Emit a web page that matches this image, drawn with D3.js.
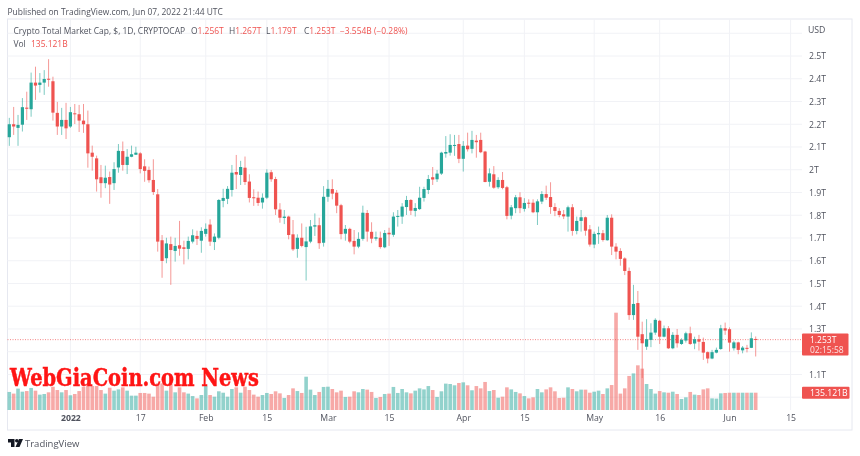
<!DOCTYPE html>
<html>
<head>
<meta charset="utf-8">
<title>Crypto Total Market Cap</title>
<script src="https://cdn.jsdelivr.net/npm/d3@7"></script>
<style>
  html, body { margin: 0; padding: 0; background: #fff; }
  svg { display: block; font-family: "Open Sans", sans-serif; filter: blur(0.35px); }
</style>
</head>
<body>
<div id="chart"></div>
<script>
// Daily candles, Dec 18 2021 to Jun 7 2022, prices in trillions of USD
const opens = [
  2.143,2.200,2.184,2.198,2.273,2.266,2.383,2.373,2.383,2.400,
  2.389,2.250,2.190,2.219,2.190,2.248,2.244,2.216,2.200,2.075,
  2.050,1.967,1.941,1.968,1.941,2.010,2.082,2.021,2.057,2.066,
  2.072,2.015,1.999,1.955,1.892,1.690,1.611,1.673,1.643,1.668,
  1.659,1.652,1.684,1.709,1.688,1.718,1.759,1.682,1.701,1.863,
  1.872,1.911,1.990,1.977,2.009,1.948,1.879,1.877,1.856,1.877,
  1.989,1.959,1.825,1.788,1.794,1.716,1.652,1.701,1.660,1.684,
  1.750,1.756,1.679,1.881,1.915,1.899,1.844,1.719,1.740,1.687,
  1.662,1.696,1.810,1.727,1.697,1.701,1.659,1.723,1.714,1.794,
  1.794,1.836,1.867,1.819,1.827,1.876,1.911,1.967,1.958,1.983,
  2.071,2.075,2.106,2.113,2.048,2.106,2.092,2.128,2.131,2.080,
  1.947,1.980,1.923,1.955,1.923,1.798,1.831,1.879,1.828,1.855,
  1.855,1.813,1.860,1.893,1.880,1.836,1.819,1.804,1.794,1.835,
  1.731,1.775,1.791,1.738,1.671,1.716,1.721,1.690,1.789,1.662,
  1.643,1.610,1.555,1.361,1.414,1.277,1.222,1.252,1.284,1.336,
  1.266,1.303,1.215,1.274,1.234,1.249,1.281,1.236,1.255,1.243,
  1.198,1.170,1.196,1.212,1.303,1.299,1.215,1.241,1.206,1.217,
  1.217,1.256
];
const highs = [
  2.228,2.276,2.241,2.315,2.343,2.427,2.453,2.425,2.438,2.486,
  2.409,2.298,2.272,2.294,2.276,2.289,2.285,2.289,2.260,2.106,
  2.062,2.021,2.018,1.992,2.033,2.113,2.124,2.091,2.106,2.101,
  2.077,2.046,2.014,2.046,1.915,1.713,1.701,1.706,1.701,1.775,
  1.688,1.706,1.738,1.732,1.747,1.764,1.782,1.720,1.871,1.916,
  1.928,2.021,2.065,2.039,2.058,1.980,1.914,1.904,1.896,2.002,
  1.999,1.969,1.853,1.823,1.798,1.779,1.716,1.764,1.749,1.779,
  1.808,1.789,1.928,1.955,1.958,1.911,1.850,1.757,1.745,1.735,
  1.725,1.842,1.823,1.769,1.728,1.728,1.735,1.745,1.813,1.823,
  1.853,1.885,1.871,1.853,1.925,1.925,1.977,2.012,1.999,2.079,
  2.148,2.156,2.153,2.153,2.126,2.163,2.171,2.153,2.163,2.083,
  2.006,2.016,1.967,1.990,1.929,1.845,1.889,1.901,1.875,1.870,
  1.870,1.870,1.906,1.930,1.945,1.853,1.831,1.823,1.842,1.849,
  1.794,1.823,1.794,1.757,1.728,1.750,1.735,1.801,1.804,1.677,
  1.655,1.615,1.570,1.494,1.467,1.332,1.343,1.325,1.347,1.340,
  1.315,1.313,1.286,1.300,1.259,1.288,1.310,1.266,1.274,1.262,
  1.201,1.208,1.218,1.318,1.328,1.307,1.248,1.244,1.225,1.230,
  1.285,1.267
];
const lows = [
  2.105,2.153,2.105,2.168,2.219,2.233,2.307,2.339,2.329,2.365,
  2.216,2.153,2.153,2.135,2.184,2.201,2.166,2.162,2.009,1.996,
  1.904,1.877,1.919,1.850,1.911,1.987,1.996,1.981,2.055,2.065,
  1.984,1.947,1.943,1.889,1.640,1.525,1.589,1.494,1.596,1.622,
  1.584,1.606,1.676,1.669,1.635,1.706,1.665,1.647,1.694,1.835,
  1.849,1.882,1.915,1.933,1.933,1.856,1.841,1.841,1.829,1.871,
  1.947,1.801,1.767,1.761,1.694,1.643,1.613,1.659,1.513,1.677,
  1.709,1.652,1.662,1.859,1.870,1.809,1.694,1.688,1.677,1.628,
  1.655,1.688,1.684,1.677,1.688,1.653,1.655,1.665,1.705,1.750,
  1.762,1.801,1.801,1.794,1.823,1.860,1.893,1.933,1.946,1.977,
  2.053,2.062,2.061,2.029,1.992,2.080,2.072,2.053,2.073,1.945,
  1.926,1.916,1.916,1.914,1.782,1.782,1.809,1.809,1.816,1.831,
  1.809,1.757,1.849,1.867,1.806,1.796,1.791,1.783,1.728,1.710,
  1.716,1.728,1.710,1.662,1.655,1.674,1.684,1.688,1.625,1.606,
  1.578,1.537,1.340,1.340,1.208,1.084,1.208,1.220,1.274,1.234,
  1.263,1.212,1.211,1.218,1.230,1.240,1.230,1.211,1.205,1.164,
  1.149,1.167,1.193,1.208,1.274,1.200,1.205,1.189,1.193,1.197,
  1.216,1.179
];
const closes = [
  2.200,2.190,2.197,2.275,2.268,2.383,2.370,2.383,2.399,2.396,
  2.251,2.190,2.219,2.182,2.253,2.245,2.216,2.200,2.072,2.057,
  1.958,1.941,1.965,1.935,2.003,2.083,2.021,2.057,2.068,2.075,
  2.003,1.995,1.954,1.902,1.684,1.599,1.676,1.647,1.665,1.653,
  1.652,1.687,1.712,1.696,1.731,1.740,1.684,1.706,1.867,1.876,
  1.916,1.987,1.979,2.012,1.946,1.876,1.876,1.854,1.877,1.987,
  1.958,1.826,1.789,1.794,1.713,1.650,1.701,1.665,1.685,1.751,
  1.756,1.677,1.881,1.916,1.895,1.842,1.717,1.740,1.684,1.662,
  1.696,1.811,1.728,1.697,1.703,1.660,1.722,1.716,1.794,1.797,
  1.838,1.867,1.820,1.832,1.877,1.915,1.959,1.957,1.983,2.075,
  2.078,2.109,2.109,2.048,2.105,2.090,2.131,2.121,2.077,1.946,
  1.984,1.921,1.955,1.920,1.797,1.835,1.879,1.831,1.854,1.853,
  1.813,1.861,1.893,1.877,1.836,1.819,1.801,1.795,1.835,1.731,
  1.775,1.791,1.732,1.671,1.718,1.722,1.691,1.789,1.662,1.640,
  1.608,1.555,1.361,1.410,1.266,1.237,1.255,1.284,1.340,1.266,
  1.303,1.215,1.274,1.237,1.252,1.281,1.234,1.255,1.244,1.196,
  1.170,1.198,1.208,1.303,1.293,1.240,1.241,1.208,1.218,1.214,
  1.259,1.253
];
// Volume in billions of USD
const volumes = [
  141,128,167,143,148,172,151,120,125,138,
  182,156,138,156,115,125,148,182,187,187,
  187,156,128,174,151,161,177,151,112,112,
  133,133,128,104,208,208,151,203,138,177,
  138,128,109,91,117,187,117,104,146,135,
  104,164,177,135,182,156,120,104,117,133,
  125,146,130,94,117,169,148,133,260,159,
  117,141,180,182,164,138,151,102,104,146,
  138,164,159,141,94,102,125,128,180,133,
  164,138,130,151,169,161,187,156,102,146,
  206,203,193,211,216,193,154,187,169,219,
  148,156,96,104,177,161,141,130,109,91,
  99,164,138,161,177,146,94,96,177,164,
  146,159,159,135,143,151,125,169,195,760,
  128,169,266,286,349,323,203,164,128,148,
  138,135,143,125,86,99,141,120,117,161,
  169,91,89,130,133,135,135,135,135,135,
  135,135.121
];

const timeTicks = [
  new Date(2022, 0, 1), new Date(2022, 0, 17), new Date(2022, 1, 1), new Date(2022, 1, 15),
  new Date(2022, 2, 1), new Date(2022, 2, 15), new Date(2022, 3, 1), new Date(2022, 3, 15),
  new Date(2022, 4, 1), new Date(2022, 4, 16), new Date(2022, 5, 1), new Date(2022, 5, 15)
];
const timeLabels = ["2022", "17", "Feb", "15", "Mar", "15", "Apr", "15", "May", "16", "Jun", "15"];

const gridPrices = [2.6, 2.5, 2.4, 2.3, 2.2, 2.1, 2, 1.9, 1.8, 1.7, 1.6, 1.5, 1.4, 1.3, 1.2, 1.1, 1];
const priceLabels = [2.5, 2.4, 2.3, 2.2, 2.1, 2, 1.9, 1.8, 1.7, 1.6, 1.5, 1.4, 1.3, 1.1];

const upColor = "#26a69a";
const downColor = "#ef5350";
const axisColor = "#50535e";

const width = 860, height = 456;
const plotRight = 802, frameLeft = 7.5, frameRight = 852, frameTop = 19, frameBottom = 430, paneBottom = 410;

const days = d3.timeDay.range(new Date(2021, 11, 18), new Date(2022, 5, 8));
const x = d3.scaleTime().domain([days[0], days[days.length - 1]]).range([9.3, 755.7]);
const y = d3.scaleLinear().domain([1, 2.5]).range([397.2, 56]);
const yVol = d3.scaleLinear().domain([0, 760]).range([paneBottom, 312.7]);

const candles = days.map((d, i) => ({
  date: d, open: opens[i], high: highs[i], low: lows[i], close: closes[i], volume: volumes[i]
}));
const colorOf = d => d.close >= d.open ? upColor : downColor;

const svg = d3.select("#chart").append("svg").attr("width", width).attr("height", height);

// Frame and grid
svg.append("rect")
  .attr("x", frameLeft).attr("y", frameTop)
  .attr("width", frameRight - frameLeft).attr("height", frameBottom - frameTop)
  .attr("fill", "#fff").attr("stroke", "#e6e8f0");

svg.append("g").selectAll("line").data(gridPrices).join("line")
  .attr("x1", frameLeft).attr("x2", plotRight)
  .attr("y1", d => y(d)).attr("y2", d => y(d))
  .attr("stroke", "#f1f2f6");

svg.append("g").selectAll("line").data(timeTicks).join("line")
  .attr("x1", d => x(d)).attr("x2", d => x(d))
  .attr("y1", frameTop).attr("y2", paneBottom)
  .attr("stroke", "#f1f2f6");

// Volume bars
svg.append("g").selectAll("rect").data(candles).join("rect")
  .attr("x", d => x(d.date) - 1.8)
  .attr("width", 3.6)
  .attr("y", d => yVol(d.volume))
  .attr("height", d => paneBottom - yVol(d.volume))
  .attr("fill", colorOf)
  .attr("opacity", 0.5);

// Last price line
svg.append("line")
  .attr("x1", frameLeft).attr("x2", plotRight)
  .attr("y1", y(1.253)).attr("y2", y(1.253))
  .attr("stroke", downColor).attr("stroke-opacity", 0.7)
  .attr("stroke-dasharray", "1 1.5");

// Candles
const candle = svg.append("g").selectAll("g").data(candles).join("g");
candle.append("line")
  .attr("x1", d => x(d.date)).attr("x2", d => x(d.date))
  .attr("y1", d => y(d.high)).attr("y2", d => y(d.low))
  .attr("stroke", colorOf)
  .attr("stroke-opacity", 0.6);
candle.append("rect")
  .attr("x", d => x(d.date) - 1.6)
  .attr("width", 3.2)
  .attr("y", d => y(Math.max(d.open, d.close)))
  .attr("height", d => Math.max(1, Math.abs(y(d.open) - y(d.close))))
  .attr("fill", colorOf);

// Watermark
svg.append("text")
  .attr("x", 10).attr("y", 386)
  .attr("textLength", 249).attr("lengthAdjust", "spacingAndGlyphs")
  .attr("font-family", "'DejaVu Serif', serif").attr("font-weight", "bold").attr("font-size", 24)
  .attr("fill", "#ff1414").attr("stroke", "#ff1414").attr("stroke-width", 0.5)
  .text("WebGiaCoin.com News");

// Axes
const priceAxis = d3.axisRight(y)
  .tickValues(priceLabels)
  .tickSize(0)
  .tickPadding(7)
  .tickFormat(d => d + "T");
const priceG = svg.append("g").attr("transform", `translate(${plotRight},0)`).call(priceAxis);
priceG.select(".domain").remove();
priceG.selectAll("text").attr("fill", axisColor).attr("font-size", 8.7).attr("font-family", "'Open Sans', sans-serif");

const timeAxis = d3.axisBottom(x)
  .tickValues(timeTicks)
  .tickSize(0)
  .tickPadding(5)
  .tickFormat((d, i) => timeLabels[i]);
const timeG = svg.append("g").attr("transform", `translate(0,${paneBottom})`).call(timeAxis);
timeG.select(".domain").remove();
timeG.selectAll("text")
  .attr("fill", axisColor).attr("font-size", 8.7).attr("font-family", "'Open Sans', sans-serif")
  .attr("font-weight", (d, i) => timeLabels[i] === "2022" ? "bold" : "normal");

svg.append("text").attr("x", 808).attr("y", 32.5)
  .attr("fill", axisColor).attr("font-size", 8.7).text("USD");

// Price and volume tags
svg.append("rect").attr("x", plotRight).attr("y", 333.5).attr("width", 46.5).attr("height", 22)
  .attr("rx", 1).attr("fill", downColor);
svg.append("text").attr("x", 810).attr("y", 343)
  .attr("fill", "#fff").attr("font-size", 8.5).text("1.253T");
svg.append("text").attr("x", 810).attr("y", 352.8)
  .attr("fill", "#fff").attr("fill-opacity", 0.85).attr("font-size", 8.5).text("02:15:58");

svg.append("rect").attr("x", plotRight).attr("y", 386.7).attr("width", 47.5).attr("height", 12)
  .attr("rx", 1).attr("fill", downColor);
svg.append("text").attr("x", 810).attr("y", 396)
  .attr("fill", "#fff").attr("font-size", 8.7).text("135.121B");

// Header
svg.append("text").attr("x", 7.5).attr("y", 14.5)
  .attr("fill", axisColor).attr("font-size", 8.45).text("Published on TradingView.com, Jun 07, 2022 21:44 UTC");

const legend = svg.append("text").attr("x", 13.5).attr("y", 34).attr("font-size", 8.45).attr("fill", axisColor);
legend.append("tspan").text("Crypto Total Market Cap, $, 1D, CRYPTOCAP");
[["O", "1.256T", 191], ["H", "1.267T", 229], ["L", "1.179T", 266], ["C", "1.253T", 304]].forEach(([k, v, px]) => {
  legend.append("tspan").attr("x", px).text(k);
  legend.append("tspan").attr("fill", downColor).text(v);
});
legend.append("tspan").attr("x", 340).attr("fill", downColor).text("\u22123.554B (\u22120.28%)");

const volLegend = svg.append("text").attr("x", 13.5).attr("y", 46.5).attr("font-size", 8.45).attr("fill", axisColor);
volLegend.append("tspan").text("Vol");
volLegend.append("tspan").attr("x", 31).attr("fill", downColor).text("135.121B");

// Footer logo
const logo = svg.append("g").attr("fill", "#131722");
logo.append("path").attr("d", d3.line()([[8, 439], [14.5, 439], [14.5, 447], [11, 447], [11, 442.5], [8, 442.5]]) + "Z");
logo.append("circle").attr("cx", 16.8).attr("cy", 440.8).attr("r", 1.8);
logo.append("path").attr("d", d3.line()([[19, 439], [23, 439], [19.5, 447], [15.5, 447]]) + "Z");
svg.append("text").attr("x", 25).attr("y", 446.5)
  .attr("fill", axisColor).attr("font-size", 9.5).text("TradingView");
</script>
</body>
</html>
